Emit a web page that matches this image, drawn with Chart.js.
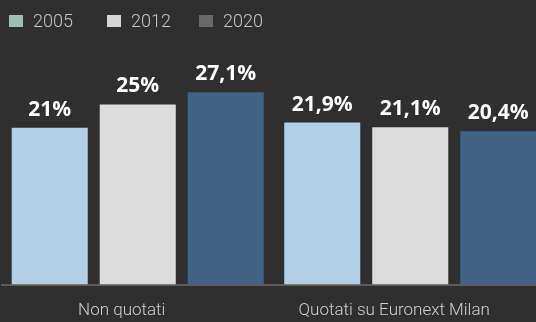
<!DOCTYPE html>
<html>
<head>
<meta charset="utf-8">
<script src="https://cdn.jsdelivr.net/npm/chart.js@4"></script>
<style>
  html, body { margin: 0; padding: 0; background: #2f2f2f; overflow: hidden; }
  #wrap { position: absolute; left: 0; top: 0; width: 548px; height: 329px; }
</style>
</head>
<body>
<div id="wrap"><canvas id="myChart"></canvas></div>
<script>
// data
var categories = ["Non quotati", "Quotati su Euronext Milan"];
var years = ["2005", "2012", "2020"];
var values2005 = [21, 21.9];
var values2012 = [25, 21.1];
var values2020 = [27.1, 20.4];

var barColors = ["#b3cfe5", "#dcdcdc", "#426384"];
var legendColors = ["#9dbcb2", "#d6d6d6", "#696969"];

// value labels above each bar, italian decimal comma
var valueLabels = {
  id: 'valueLabels',
  afterDatasetsDraw: function (chart) {
    var ctx = chart.ctx;
    ctx.save();
    ctx.fillStyle = "#ffffff";
    ctx.font = "bold 21px 'Open Sans'";
    ctx.textAlign = "center";
    ctx.textBaseline = "alphabetic";
    chart.data.datasets.forEach(function (ds, i) {
      chart.getDatasetMeta(i).data.forEach(function (bar, j) {
        var txt = String(ds.data[j]).replace('.', ',') + '%';
        ctx.fillText(txt, bar.x, bar.y - 12);
      });
    });
    ctx.restore();
  }
};

// simple legend across the top
var topLegend = {
  id: 'topLegend',
  afterDraw: function (chart) {
    var ctx = chart.ctx;
    var xs = [9, 107, 199];
    ctx.save();
    ctx.font = "300 18px Roboto";
    ctx.textBaseline = "alphabetic";
    ctx.textAlign = "left";
    chart.data.datasets.forEach(function (ds, i) {
      ctx.fillStyle = legendColors[i];
      ctx.fillRect(xs[i], 15, 14, 12);
      ctx.fillStyle = "#c4c4c4";
      ctx.fillText(ds.label, xs[i] + 24, 27);
    });
    ctx.restore();
  }
};

var myChart = new Chart(document.getElementById("myChart"), {
  type: 'bar',
  data: {
    labels: categories,
    datasets: [
      { label: years[0], data: values2005, backgroundColor: barColors[0], base: -6 },
      { label: years[1], data: values2012, backgroundColor: barColors[1], base: -6 },
      { label: years[2], data: values2020, backgroundColor: barColors[2], base: -6 }
    ]
  },
  options: {
    responsive: true,
    maintainAspectRatio: false,
    animation: false,
    categoryPercentage: 0.969,
    barPercentage: 0.864,
    layout: { padding: { left: 1.5, right: 1.5, top: 40, bottom: 0 } },
    plugins: {
      legend: { display: false },
      tooltip: { enabled: false }
    },
    scales: {
      y: { display: false, min: -6, max: 36.1 },
      x: {
        grid: { display: false },
        border: { display: true, color: "#5c5c5c", width: 2 },
        ticks: {
          color: "#cfcfcf",
          font: { family: "Roboto", size: 17, weight: 300 },
          padding: 8,
          labelOffset: -16
        }
      }
    }
  },
  plugins: [valueLabels, topLegend]
});
</script>
</body>
</html>
